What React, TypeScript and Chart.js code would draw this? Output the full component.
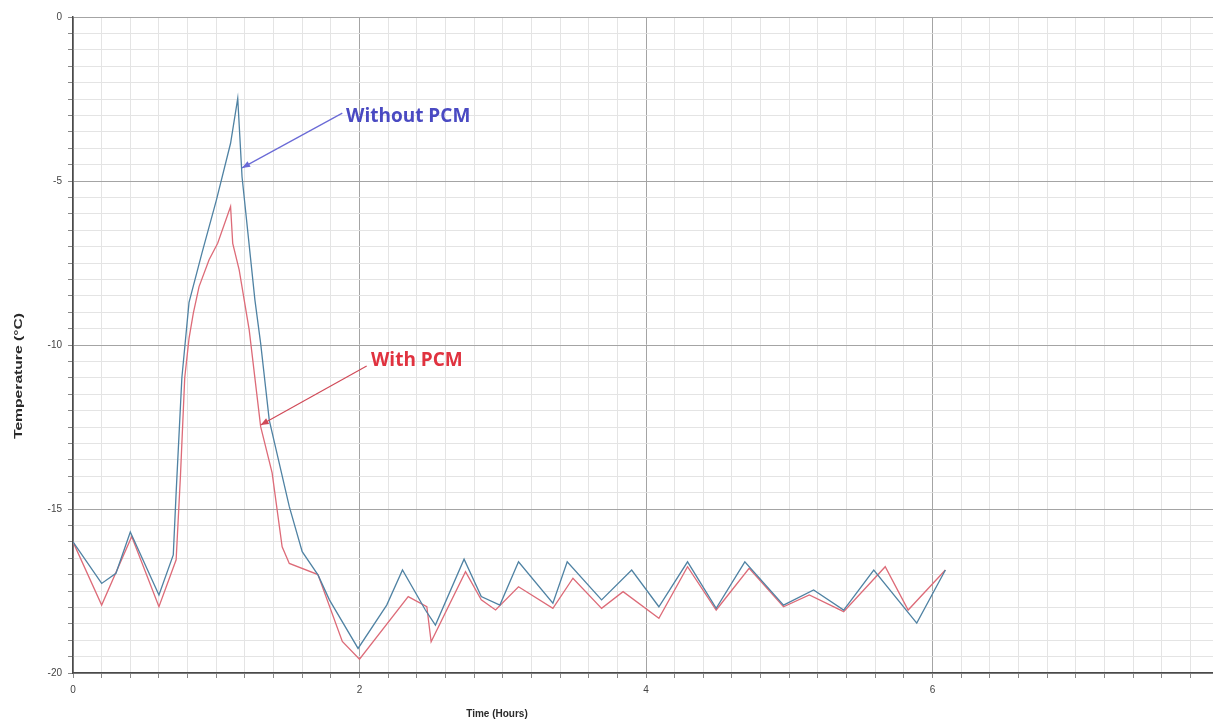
import React, { useEffect, useRef } from "react";
import { Chart, registerables } from "chart.js";

Chart.register(...registerables);

// ---- Data ----
const withoutPcmTime = [
  0, 0.2, 0.3, 0.4, 0.6, 0.7, 0.72, 0.76, 0.81, 0.9, 1.0, 1.1, 1.15, 1.18, 1.27, 1.31, 1.37,
  1.51, 1.6, 1.71, 1.79, 1.99, 2.19, 2.3, 2.46, 2.53, 2.73, 2.85, 2.98, 3.11, 3.35, 3.45, 3.69,
  3.9, 4.09, 4.29, 4.49, 4.69, 4.96, 5.17, 5.38, 5.59, 5.89, 6.09,
];
const withoutPcmTemp = [
  -16.0, -17.27, -16.96, -15.7, -17.62, -16.4, -14.5, -11.0, -8.7, -7.2, -5.6, -3.85, -2.48,
  -4.87, -8.63, -9.95, -12.29, -14.93, -16.3, -17.01, -17.77, -19.25, -17.93, -16.86, -18.08,
  -18.54, -16.53, -17.67, -17.93, -16.61, -17.87, -16.61, -17.77, -16.86, -17.98, -16.61,
  -18.03, -16.61, -17.93, -17.47, -18.08, -16.86, -18.48, -16.86,
];

const withPcmTime = [
  0, 0.2, 0.41, 0.6, 0.72, 0.75, 0.78, 0.81, 0.84, 0.88, 0.95, 1.01, 1.1, 1.115, 1.16, 1.23,
  1.31, 1.39, 1.46, 1.51, 1.71, 1.88, 2.0, 2.34, 2.47, 2.5, 2.74, 2.85, 2.95, 3.11, 3.35, 3.49,
  3.69, 3.84, 4.09, 4.29, 4.49, 4.72, 4.96, 5.14, 5.38, 5.67, 5.83, 6.09,
];
const withPcmTemp = [
  -16.0, -17.93, -15.84, -17.98, -16.55, -14.0, -11.0, -9.8, -9.03, -8.22, -7.4, -6.9, -5.78,
  -6.9, -7.71, -9.54, -12.49, -13.9, -16.15, -16.66, -17.0, -19.04, -19.58, -17.67, -17.98,
  -19.05, -16.91, -17.77, -18.08, -17.37, -18.03, -17.11, -18.03, -17.52, -18.33, -16.76,
  -18.08, -16.81, -17.98, -17.62, -18.13, -16.76, -18.08, -16.86,
];

const xLabelValues = [0, 2, 4, 6];
const xTickLabels = ["0", "2", "4", "6"];
const yLabelValues = [0, -5, -10, -15, -20];
const yTickLabels = ["0", "-5", "-10", "-15", "-20"];

const seriesNames = ["Without PCM", "With PCM"];
const xTitle = "Time (Hours)";
const yTitle = "Temperature (°C)";

// ---- Styling / layout ----
const BLUE = "#4f82a3";
const RED = "#dd6b78";
const CANVAS_W = 1225;
const CANVAS_H = 722;

const annotations = [
  {
    text: seriesNames[0],
    color: "#4a4ac2",
    arrowColor: "#6a6ad6",
    label: { x: 1.906, y: -3.05 },
    tail: { x: 1.88, y: -2.93 },
    head: { x: 1.18, y: -4.6 },
  },
  {
    text: seriesNames[1],
    color: "#e0323f",
    arrowColor: "#d04a58",
    label: { x: 2.08, y: -10.49 },
    tail: { x: 2.05, y: -10.64 },
    head: { x: 1.31, y: -12.44 },
  },
];

const near = (a: number, b: number) => Math.abs(a - b) < 1e-6;

const annotationPlugin = {
  id: "annotationPlugin",
  afterDatasetsDraw(chart: any) {
    const { ctx, scales } = chart;
    const xs = scales.x;
    const ys = scales.y;
    ctx.save();
    for (const a of annotations) {
      const tx = xs.getPixelForValue(a.tail.x);
      const ty = ys.getPixelForValue(a.tail.y);
      const hx = xs.getPixelForValue(a.head.x);
      const hy = ys.getPixelForValue(a.head.y);
      ctx.strokeStyle = a.arrowColor;
      ctx.fillStyle = a.arrowColor;
      ctx.lineWidth = 1.2;
      ctx.beginPath();
      ctx.moveTo(tx, ty);
      ctx.lineTo(hx, hy);
      ctx.stroke();
      const ang = Math.atan2(hy - ty, hx - tx);
      const len = 8;
      const wid = 3.2;
      ctx.beginPath();
      ctx.moveTo(hx, hy);
      ctx.lineTo(
        hx - len * Math.cos(ang) + wid * Math.sin(ang),
        hy - len * Math.sin(ang) - wid * Math.cos(ang)
      );
      ctx.lineTo(
        hx - len * Math.cos(ang) - wid * Math.sin(ang),
        hy - len * Math.sin(ang) + wid * Math.cos(ang)
      );
      ctx.closePath();
      ctx.fill();

      ctx.fillStyle = a.color;
      ctx.font = "bold 19px 'Open Sans', 'Liberation Sans', sans-serif";
      ctx.textAlign = "left";
      ctx.textBaseline = "middle";
      ctx.fillText(a.text, xs.getPixelForValue(a.label.x), ys.getPixelForValue(a.label.y));
    }
    ctx.restore();
  },
  afterDraw(chart: any) {
    const { ctx } = chart;
    ctx.save();
    ctx.fillStyle = "#2a2a2a";
    ctx.font = "bold 10px 'Liberation Sans', Arial, sans-serif";
    ctx.textAlign = "center";
    ctx.textBaseline = "middle";
    ctx.fillText(xTitle, 497, 714);
    ctx.restore();

    ctx.save();
    ctx.fillStyle = "#2a2a2a";
    ctx.font = "bold 11px 'Liberation Sans', Arial, sans-serif";
    ctx.textAlign = "center";
    ctx.textBaseline = "middle";
    const w = ctx.measureText(yTitle).width;
    const stretch = w > 0 ? 126 / w : 1;
    ctx.translate(19, 376);
    ctx.rotate(-Math.PI / 2);
    ctx.scale(stretch, 1);
    ctx.fillText(yTitle, 0, 0);
    ctx.restore();
  },
};

export default function App() {
  const canvasRef = useRef<HTMLCanvasElement | null>(null);

  useEffect(() => {
    const canvas = canvasRef.current;
    if (!canvas) return;
    const xTickValues: number[] = [];
    for (let i = 0; i <= 40; i++) xTickValues.push(Math.round(i * 0.2 * 10) / 10);
    const yTickValues: number[] = [];
    for (let i = 0; i <= 40; i++) yTickValues.push(-i * 0.5);

    const chart = new Chart(canvas, {
      type: "line",
      data: {
        datasets: [
          {
            label: seriesNames[0],
            data: withoutPcmTime.map((t, i) => ({ x: t, y: withoutPcmTemp[i] })),
            borderColor: BLUE,
            borderWidth: 1.3,
            pointRadius: 0,
            tension: 0,
            fill: false,
          },
          {
            label: seriesNames[1],
            data: withPcmTime.map((t, i) => ({ x: t, y: withPcmTemp[i] })),
            borderColor: RED,
            borderWidth: 1.3,
            pointRadius: 0,
            tension: 0,
            fill: false,
          },
        ],
      },
      options: {
        animation: false,
        responsive: false,
        devicePixelRatio: 1,
        layout: { padding: { top: 17, left: 0, right: 2, bottom: 0 } },
        plugins: {
          legend: { display: false },
          tooltip: { enabled: false },
        },
        scales: {
          x: {
            type: "linear",
            min: 0,
            max: 8,
            afterBuildTicks: (scale: any) => {
              scale.ticks = xTickValues.map((v) => ({ value: v }));
            },
            afterFit: (scale: any) => {
              scale.height = 49;
            },
            ticks: {
              autoSkip: false,
              maxRotation: 0,
              padding: 6,
              color: "#444",
              font: { family: "'Liberation Sans', Arial, sans-serif", size: 10 },
              callback: (value: any) => {
                const idx = xLabelValues.findIndex((v) => near(v, Number(value)));
                return idx >= 0 ? xTickLabels[idx] : "";
              },
            },
            grid: {
              color: (c: any) => {
                const v = c.tick ? c.tick.value : 0;
                return near(v / 2, Math.round(v / 2)) ? "#a4a4a4" : "#e4e4e4";
              },
              lineWidth: 1,
              tickLength: 5,
              tickColor: "#888",
            },
            border: { display: true, color: "#4a4a4a", width: 1.5 },
          },
          y: {
            type: "linear",
            min: -20,
            max: 0,
            afterBuildTicks: (scale: any) => {
              scale.ticks = yTickValues.map((v) => ({ value: v }));
            },
            afterFit: (scale: any) => {
              scale.width = 73;
            },
            ticks: {
              autoSkip: false,
              padding: 6,
              color: "#444",
              font: { family: "'Liberation Sans', Arial, sans-serif", size: 10 },
              callback: (value: any) => {
                const idx = yLabelValues.findIndex((v) => near(v, Number(value)));
                return idx >= 0 ? yTickLabels[idx] : "";
              },
            },
            grid: {
              color: (c: any) => {
                const v = c.tick ? c.tick.value : 0;
                return near(v / 5, Math.round(v / 5)) ? "#a4a4a4" : "#e4e4e4";
              },
              lineWidth: 1,
              tickLength: 5,
              tickColor: "#888",
            },
            border: { display: true, color: "#4a4a4a", width: 1.5 },
          },
        },
      },
      plugins: [annotationPlugin],
    } as any);

    return () => {
      chart.destroy();
    };
  }, []);

  return (
    <div
      style={{
        position: "fixed",
        left: 0,
        top: 0,
        width: 1213,
        height: 722,
        overflow: "hidden",
        background: "#ffffff",
      }}
    >
      <canvas
        ref={canvasRef}
        width={CANVAS_W}
        height={CANVAS_H}
        style={{ width: CANVAS_W, height: CANVAS_H, display: "block" }}
      />
    </div>
  );
}
